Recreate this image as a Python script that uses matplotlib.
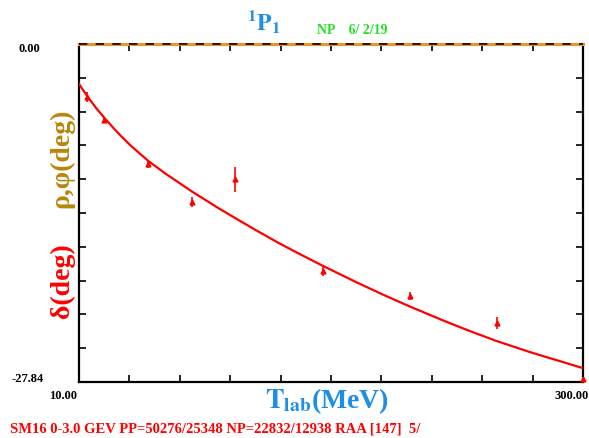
import matplotlib.pyplot as plt

# phase shift data
T_DATA = [14.4, 24.6, 49.9, 74.8, 99.8, 150.2, 200.3, 250.3, 300.0]
DELTA_DATA = [-4.39, -6.28, -9.91, -12.99, -11.12, -18.67, -20.76, -22.95, -27.6]
DELTA_ERR = [0.4, 0.25, 0.3, 0.4, 1.03, 0.4, 0.35, 0.5, 0.2]

# SM16 solution curve
T_CURVE = [10, 15, 20, 25, 30, 35, 40, 50, 60, 75, 90, 100, 112, 125, 137,
           150, 170, 185, 200, 220, 235, 250, 270, 285, 300]
DELTA_CURVE = [-3.3, -4.35, -5.3, -6.15, -6.95, -7.7, -8.4, -9.65, -10.7, -12.15,
               -13.5, -14.35, -15.35, -16.4, -17.3, -18.25, -19.65, -20.65, -21.6,
               -22.8, -23.65, -24.45, -25.4, -26.05, -26.7]

X_MIN, X_MAX = 10.0, 300.0
Y_MIN, Y_MAX = -27.84, 0.0

SERIF = "Liberation Serif"
BLUE = "#1e8fe6"
GOLD = "#b8860b"
RED = "#ff0000"


def build_plot():
    fig = plt.figure(figsize=(5.89, 4.38), dpi=100)
    ax = fig.add_axes([79 / 589, 1 - 382 / 438, 504 / 589, 338 / 438])

    ax.plot(T_CURVE, DELTA_CURVE, color=RED, linewidth=1.6, zorder=3)
    ax.errorbar(T_DATA, DELTA_DATA, yerr=DELTA_ERR, fmt="^", color=RED,
                markersize=3.5, elinewidth=1.2, capsize=0, zorder=4, clip_on=False)

    # rho, phi = 0 line along the top
    ax.plot([X_MIN, X_MAX], [0, 0], color="#e8962a", linewidth=2.2, zorder=5, clip_on=False)
    ax.plot([X_MIN, X_MAX], [0, 0], color="black", linewidth=1.2,
            dashes=(5, 5), zorder=6, clip_on=False)

    ax.set_xlim(X_MIN, X_MAX)
    ax.set_ylim(Y_MIN, Y_MAX)
    step_x = (X_MAX - X_MIN) / 10
    step_y = (Y_MAX - Y_MIN) / 10
    ax.set_xticks([X_MIN + i * step_x for i in range(11)])
    ax.set_yticks([Y_MIN + i * step_y for i in range(11)])
    ax.tick_params(direction="in", length=5, width=1.2, top=True, right=True,
                   labelbottom=False, labelleft=False)
    for side in ["left", "right", "bottom"]:
        ax.spines[side].set_linewidth(1.6)
    ax.spines["top"].set_visible(False)

    bold = dict(fontfamily=SERIF, fontweight="bold")
    fig.text(29 / 589, 1 - 49 / 438, "0.00", fontsize=9, ha="center", va="center", **bold)
    fig.text(28 / 589, 1 - 379 / 438, "-27.84", fontsize=9, ha="center", va="center", **bold)
    fig.text(63 / 589, 1 - 396 / 438, "10.00", fontsize=9, ha="center", va="center", **bold)
    fig.text(1.0, 1 - 396 / 438, "300.00", fontsize=9, ha="right", va="center", **bold)

    fig.text(264 / 589, 1 - 22 / 438, r"$\mathbf{^1P_1}$", fontsize=17, color=BLUE,
             ha="center", va="center", math_fontfamily="stix")
    fig.text(352 / 589, 1 - 31 / 438, "NP    6/ 2/19", fontsize=10, color="#22e022",
             ha="center", va="center", **bold)

    fig.text(62 / 589, 1 - 158 / 438, "ρ,φ(deg)", fontsize=20, color=GOLD,
             rotation=90, ha="center", va="center", **bold)
    fig.text(62 / 589, 1 - 281 / 438, "δ(deg)", fontsize=20, color=RED,
             rotation=90, ha="center", va="center", **bold)

    fig.text(327 / 589, 1 - 401 / 438, r"$\mathbf{T_{lab}}$(MeV)", fontsize=20, color=BLUE,
             ha="center", va="center", math_fontfamily="stix", **bold)

    fig.text(10 / 589, 1 - 429 / 438,
             "SM16 0-3.0 GEV PP=50276/25348 NP=22832/12938 RAA [147]  5/",
             fontsize=10.5, color=RED, ha="left", va="center", **bold)

    fig.savefig("out.png", dpi=100)
    plt.close(fig)


if __name__ == "__main__":
    build_plot()
